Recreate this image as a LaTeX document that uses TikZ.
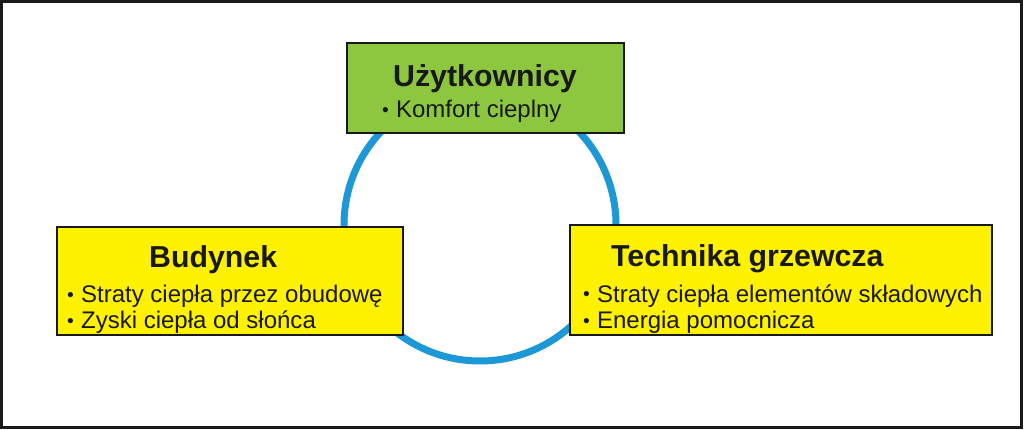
\documentclass[tikz,border=0pt]{standalone}
\usepackage{fontspec}
\setmainfont{Liberation Sans}
\definecolor{boxgreen}{RGB}{141,198,63}
\definecolor{boxyellow}{RGB}{255,242,0}
\definecolor{ringblue}{RGB}{28,152,215}
\definecolor{ink}{RGB}{25,25,25}
\newcommand{\bul}{\raisebox{0.05em}{\scalebox{0.8}{\textbullet}}\hspace{0.3em}}
\begin{document}
\begin{tikzpicture}[x=1pt,y=-1pt,
  box/.style={draw=ink,line width=1.4pt,inner sep=0pt},
  ttl/.style={anchor=base west,inner sep=0pt,font=\fontsize{30.3}{34}\selectfont\bfseries,text=ink},
  itm/.style={anchor=base west,inner sep=0pt,font=\fontsize{24}{26}\selectfont,text=ink}]
\useasboundingbox (0,0) rectangle (1024,430);
\fill[white] (0,0) rectangle (1024,430);
\draw[ink,line width=3.2pt] (1.6,1.6) rectangle (1021.6,427.6);
% ring
\draw[ringblue,line width=7pt] (480,225) circle[radius=136];
% boxes
\node[box,fill=boxgreen,minimum width=277pt,minimum height=90pt] (users) at (485.5,88) {};
\node[box,fill=boxyellow,minimum width=346pt,minimum height=108pt] (building) at (230,281) {};
\node[box,fill=boxyellow,minimum width=422pt,minimum height=110pt] (heating) at (781,280) {};
% texts
\node[ttl] (usersT) at (393,87) {Użytkownicy};
\node[itm] (usersA) at (382,118) {\bul Komfort cieplny};
\node[ttl] (buildingT) at (149,267) {Budynek};
\node[itm] (buildingA) at (67,302.5) {\bul Straty ciepła przez obudowę};
\node[itm] (buildingB) at (67,328.5) {\bul Zyski ciepła od słońca};
\node[ttl] (heatingT) at (611,266) {Technika grzewcza};
\node[itm] (heatingA) at (583,302) {\bul Straty ciepła elementów składowych};
\node[itm] (heatingB) at (583,328.5) {\bul Energia pomocnicza};
\end{tikzpicture}
\end{document}
